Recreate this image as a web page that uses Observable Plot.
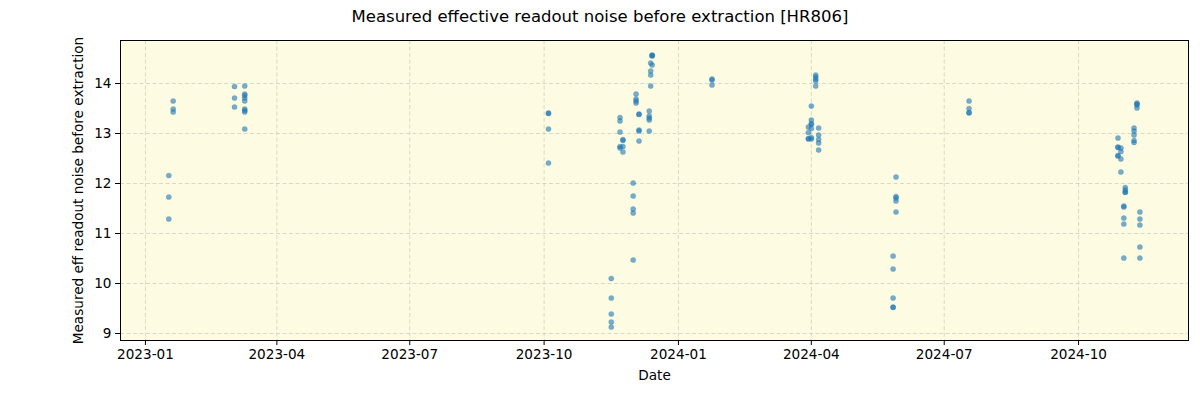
<!DOCTYPE html>
<html>
<head>
<meta charset="utf-8">
<script src="https://cdn.jsdelivr.net/npm/d3@7"></script>
<script src="https://cdn.jsdelivr.net/npm/@observablehq/plot@0.6"></script>
<style>
  html, body { margin: 0; padding: 0; background: #ffffff; }
  #title { width: 1200px; height: 33px; line-height: 33px; text-align: center;
           font-family: "DejaVu Sans", sans-serif; font-size: 16.5px; color: #000; }
</style>
</head>
<body>
<div id="title">Measured effective readout noise before extraction [HR806]</div>
<div id="chart"></div>
<script>
const obsDates = [
  "2023-01-20","2023-01-20","2023-01-20",
  "2023-01-17","2023-01-17","2023-01-17",
  "2023-03-03","2023-03-03","2023-03-03",
  "2023-03-10","2023-03-10","2023-03-10","2023-03-10","2023-03-10","2023-03-10","2023-03-10","2023-03-10","2023-03-10",
  "2023-10-04","2023-10-04","2023-10-04","2023-10-04",
  "2023-11-16","2023-11-16","2023-11-16","2023-11-16","2023-11-16",
  "2023-11-22","2023-11-22","2023-11-22","2023-11-22","2023-11-22",
  "2023-11-24","2023-11-24","2023-11-24","2023-11-24",
  "2023-12-01","2023-12-01","2023-12-01","2023-12-01","2023-12-01",
  "2023-12-03","2023-12-03","2023-12-03","2023-12-03",
  "2023-12-05","2023-12-05","2023-12-05","2023-12-05","2023-12-05",
  "2023-12-12","2023-12-12","2023-12-12","2023-12-12","2023-12-12",
  "2023-12-13","2023-12-13","2023-12-13","2023-12-13",
  "2023-12-14","2023-12-14","2023-12-14","2023-12-14",
  "2024-01-24","2024-01-24","2024-01-24",
  "2024-03-30","2024-03-30","2024-03-30","2024-03-30",
  "2024-04-01","2024-04-01","2024-04-01","2024-04-01","2024-04-01","2024-04-01","2024-04-01",
  "2024-04-04","2024-04-04","2024-04-04","2024-04-04","2024-04-04",
  "2024-04-06","2024-04-06","2024-04-06","2024-04-06","2024-04-06",
  "2024-05-27","2024-05-27","2024-05-27","2024-05-27","2024-05-27",
  "2024-05-29","2024-05-29","2024-05-29","2024-05-29","2024-05-29",
  "2024-07-18","2024-07-18","2024-07-18","2024-07-18",
  "2024-10-28","2024-10-28","2024-10-28","2024-10-28","2024-10-28",
  "2024-10-30","2024-10-30","2024-10-30","2024-10-30",
  "2024-11-01","2024-11-01","2024-11-01","2024-11-01","2024-11-01",
  "2024-11-02","2024-11-02","2024-11-02","2024-11-02",
  "2024-11-08","2024-11-08","2024-11-08","2024-11-08","2024-11-08",
  "2024-11-10","2024-11-10","2024-11-10","2024-11-10",
  "2024-11-12","2024-11-12","2024-11-12","2024-11-12","2024-11-12"
];
const noiseValues = [
  13.65, 13.49, 13.43,
  12.16, 11.73, 11.29,
  13.94, 13.71, 13.53,
  13.95, 13.79, 13.76, 13.71, 13.65, 13.49, 13.46, 13.43, 13.09,
  13.41, 13.40, 13.09, 12.41,
  10.10, 9.71, 9.39, 9.23, 9.13,
  13.32, 13.25, 13.03, 12.74, 12.71,
  12.88, 12.86, 12.74, 12.63,
  12.01, 11.75, 11.49, 11.41, 10.47,
  13.79, 13.69, 13.65, 13.61,
  13.39, 13.38, 13.07, 13.05, 12.85,
  13.45, 13.35, 13.31, 13.27, 13.05,
  14.41, 14.25, 14.17, 13.95,
  14.57, 14.56, 14.55, 14.37,
  14.09, 14.07, 13.97,
  13.13, 13.02, 12.90, 12.89,
  13.55, 13.27, 13.20, 13.18, 13.10, 12.92, 12.89,
  14.17, 14.13, 14.09, 14.05, 13.95,
  13.11, 12.97, 12.88, 12.81, 12.67,
  10.55, 10.29, 9.71, 9.53, 9.52,
  12.13, 11.74, 11.71, 11.65, 11.43,
  13.65, 13.50, 13.42, 13.41,
  12.91, 12.73, 12.72, 12.56, 12.55,
  12.71, 12.64, 12.49, 12.23,
  11.55, 11.53, 11.31, 11.19, 10.51,
  11.92, 11.87, 11.83, 11.82,
  13.11, 13.05, 12.97, 12.86, 12.82,
  13.61, 13.59, 13.57, 13.51,
  11.43, 11.29, 11.17, 10.73, 10.51
];
const xTickLabels = ["2023-01","2023-04","2023-07","2023-10","2024-01","2024-04","2024-07","2024-10"];
const yTickValues = [9, 10, 11, 12, 13, 14];
const xDomainLabels = ["2022-12-14T22:00", "2024-12-15T07:00"];
const yDomainValues = [8.86, 14.86];

const data = obsDates.map((d, i) => ({date: new Date(d + "T00:00Z"), value: noiseValues[i]}));
const xTicks = xTickLabels.map(s => new Date(s + "-01T00:00Z"));
const xDomain = xDomainLabels.map(s => new Date(s + "Z"));

const gridStyle = {stroke: "#b0b0b0", strokeOpacity: 0.6, strokeDasharray: "4,2.5", strokeWidth: 0.8};

const chart = Plot.plot({
  width: 1200,
  height: 367,
  marginTop: 7,
  marginBottom: 60,
  marginLeft: 120,
  marginRight: 12,
  style: {fontFamily: "DejaVu Sans, sans-serif", fontSize: "13.6px", color: "#000", background: "transparent"},
  x: {type: "utc", domain: xDomain},
  y: {domain: yDomainValues},
  marks: [
    Plot.frame({fill: "#fdfce2", stroke: null}),
    Plot.gridX(xTicks, gridStyle),
    Plot.gridY(yTickValues, gridStyle),
    Plot.dot(data, {x: "date", y: "value", r: 2.6, fill: "#1f77b4", fillOpacity: 0.6, stroke: "#1f77b4", strokeOpacity: 0.35, strokeWidth: 0.6}),
    Plot.axisX({ticks: xTicks, tickFormat: d3.utcFormat("%Y-%m"), tickSize: 5, tickPadding: 4,
      label: "Date", labelAnchor: "center", labelOffset: 39, labelArrow: "none"}),
    Plot.axisY({ticks: yTickValues, tickFormat: d => String(d), tickSize: 5, tickPadding: 4,
      label: "Measured eff readout noise before extraction", labelAnchor: "center", labelOffset: 47, labelArrow: "none"}),
    Plot.frame({stroke: "#000", strokeWidth: 1})
  ]
});
document.getElementById("chart").appendChild(chart);
</script>
</body>
</html>
